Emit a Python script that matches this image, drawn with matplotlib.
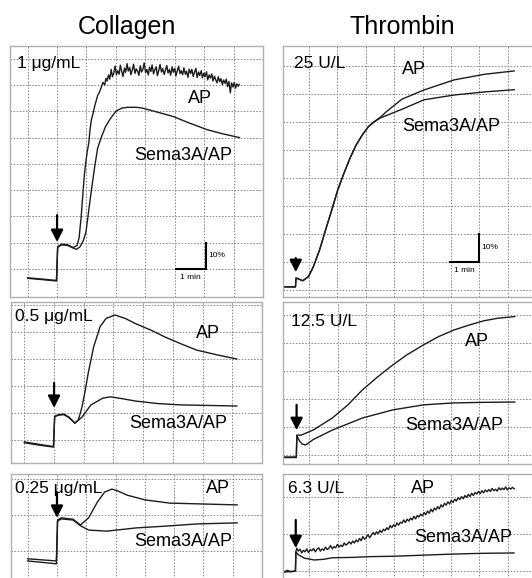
import numpy as np
import matplotlib
matplotlib.use("Agg")
import matplotlib.pyplot as plt

plt.rcParams['font.family'] = ['Liberation Sans', 'DejaVu Sans']

FIG_W, FIG_H = 532, 578
TRACE_COLOR = '#1c1c1c'

# traces: (min from agonist addition, % aggregation)
collagen_1_ap = [(-1.0, -3.5), (-0.5, -4.0), (-0.02, -4.5), (0.02, 8.5), (0.15, 9.5), (0.35, 9.3),
                 (0.55, 8.2), (0.68, 9.0), (0.75, 12), (0.82, 20), (0.88, 29), (0.93, 36), (0.98, 41),
                 (1.03, 45), (1.08, 48), (1.12, 53), (1.17, 57), (1.22, 59), (1.28, 62), (1.33, 64),
                 (1.38, 66), (1.43, 67), (1.5, 69), (1.56, 71), (1.62, 70), (1.66, 72.5),
                 (1.70, 71.5), (1.75, 73.8), (1.79, 72.2), (1.84, 75.9), (1.88, 73.1), (1.93, 74.6),
                 (1.97, 77.2), (2.02, 73.9), (2.06, 75.4), (2.11, 74.1), (2.15, 77.5), (2.20, 75.0),
                 (2.24, 73.2), (2.29, 76.4), (2.33, 74.8), (2.38, 78.1), (2.42, 75.3), (2.47, 76.6),
                 (2.51, 73.9), (2.56, 75.8), (2.60, 77.9), (2.65, 74.4), (2.69, 76.1), (2.74, 75.2),
                 (2.78, 73.6), (2.83, 77.3), (2.87, 74.9), (2.92, 76.0), (2.96, 78.4), (3.01, 74.7),
                 (3.05, 75.9), (3.10, 73.8), (3.14, 76.8), (3.19, 75.1), (3.23, 77.6), (3.28, 74.2),
                 (3.32, 75.7), (3.37, 76.9), (3.41, 73.5), (3.46, 75.6), (3.50, 77.8), (3.55, 74.9),
                 (3.59, 76.2), (3.64, 74.0), (3.68, 75.5), (3.73, 77.4), (3.77, 74.6), (3.82, 75.8),
                 (3.86, 73.7), (3.91, 76.9), (3.95, 74.8), (4.00, 76.3), (4.04, 73.4), (4.09, 75.6),
                 (4.13, 77.1), (4.18, 74.3), (4.22, 75.4), (4.27, 73.9), (4.31, 76.5), (4.36, 74.1),
                 (4.40, 75.2), (4.45, 72.9), (4.49, 76.0), (4.54, 74.4), (4.58, 75.9), (4.63, 73.2),
                 (4.67, 74.8), (4.72, 76.3), (4.76, 72.8), (4.81, 74.9), (4.85, 73.6), (4.90, 75.4),
                 (4.94, 72.7), (4.99, 74.5), (5.03, 73.1), (5.08, 75.0), (5.12, 71.9), (5.17, 73.8),
                 (5.21, 72.6), (5.26, 74.2), (5.30, 71.5), (5.35, 73.3), (5.39, 72.0), (5.44, 70.8),
                 (5.48, 73.1), (5.53, 71.2), (5.57, 72.4), (5.62, 70.1), (5.66, 71.9), (5.71, 70.6),
                 (5.75, 72.2), (5.80, 69.4), (5.84, 71.3), (5.89, 67.0), (5.93, 70.8), (5.98, 69.2),
                 (6.02, 70.9), (6.07, 68.8), (6.11, 70.4), (6.16, 69.5), (6.19, 70.2)]
collagen_1_sema = [(-1.0, -3.3), (-0.5, -3.8), (-0.02, -4.3), (0.02, 8.3), (0.15, 9.2), (0.35, 9.0),
                   (0.55, 8.0), (0.66, 7.5), (0.78, 8.5), (0.9, 11), (0.98, 14), (1.05, 20), (1.12, 26),
                   (1.18, 31), (1.28, 39), (1.38, 46), (1.5, 50), (1.64, 54), (1.8, 57), (2.0, 60),
                   (2.2, 61.2), (2.4, 61.5), (2.7, 61.5), (2.9, 61.2), (3.3, 60), (3.95, 58),
                   (4.5, 55.5), (5.1, 53), (5.6, 51.5), (6.2, 50)]

collagen_05_ap = [(-1.0, -0.7), (-0.5, -1.6), (-0.02, -2.4), (0.02, 8.8), (0.15, 9.4), (0.33, 9.6),
                  (0.5, 8.5), (0.7, 6.3), (0.82, 7.5), (0.94, 12.2), (1.05, 18.5), (1.15, 24.8),
                  (1.33, 34.4), (1.55, 42), (1.75, 45), (2.05, 46.3), (2.4, 45), (2.76, 43),
                  (3.3, 40.5), (3.76, 38), (4.3, 35.5), (4.8, 33.3), (5.5, 31.5), (6.15, 30)]
collagen_05_sema = [(-1.0, -1.0), (-0.5, -1.9), (-0.02, -2.6), (0.02, 8.6), (0.15, 9.2), (0.33, 9.4),
                    (0.5, 8.3), (0.7, 6.2), (0.94, 8.5), (1.24, 13), (1.64, 15.5), (1.9, 16),
                    (2.3, 15.3), (2.76, 14.4), (3.5, 13.5), (4.27, 13), (5.2, 12.8), (6.15, 12.6)]

collagen_025_ap = [(-1.0, -2.2), (-0.5, -2.5), (-0.02, -2.8), (0.02, 8.6), (0.15, 9.2), (0.55, 8.8),
                   (0.8, 7.2), (1.08, 9.2), (1.38, 13.6), (1.63, 16.4), (1.88, 17.2), (2.1, 16.6),
                   (2.4, 15.5), (3.0, 14.2), (3.85, 13.3), (4.77, 13.1), (6.15, 12.8)]
collagen_025_sema = [(-1.0, -2.8), (-0.5, -3.2), (-0.02, -3.6), (0.02, 8.3), (0.15, 8.9), (0.55, 8.6),
                     (0.8, 7.0), (1.08, 5.8), (1.7, 5.5), (2.71, 6.4), (3.72, 6.9), (4.77, 7.5),
                     (6.15, 7.8)]

thrombin_25_ap = [(-0.45, 1.1), (-0.01, 1.1), (0.01, 4.3), (0.25, 3.3), (0.45, 4.8), (0.62, 8.3),
                  (0.84, 14.3), (1.05, 21.4), (1.27, 28.6), (1.48, 35.7), (1.7, 41.7), (1.91, 47.0),
                  (2.13, 51.8), (2.35, 55.4), (2.56, 58.3), (2.77, 60.1), (3.0, 61.8), (3.2, 63.7),
                  (3.74, 68.1), (4.52, 71.4), (5.58, 75.0), (6.65, 77.0), (7.7, 78.2)]
thrombin_25_sema = [(-0.45, 1.1), (-0.01, 1.1), (0.01, 4.3), (0.25, 3.3), (0.45, 4.8), (0.62, 8.3),
                    (0.84, 14.3), (1.05, 21.4), (1.27, 28.6), (1.48, 35.7), (1.7, 41.7), (1.91, 47.0),
                    (2.13, 51.8), (2.35, 55.4), (2.56, 58.3), (2.77, 60.1), (3.0, 61.5), (3.2, 62.3),
                    (3.74, 64.5), (4.52, 67.9), (5.58, 69.6), (6.65, 70.7), (7.7, 71.5)]

thrombin_125_ap = [(-0.45, -0.7), (-0.01, -0.7), (0.01, 7.1), (0.16, 7.1), (0.6, 9.0), (1.26, 13.2),
                   (1.8, 17.8), (2.32, 23.2), (2.85, 27.8), (3.39, 32.1), (3.9, 35.8), (4.48, 39.3),
                   (5.0, 42.2), (5.55, 44.6), (6.1, 46.4), (6.61, 47.9), (7.1, 48.8), (7.7, 49.4)]
thrombin_125_sema = [(-0.45, -0.9), (-0.01, -0.9), (0.01, 7.0), (0.1, 5.0), (0.2, 3.9), (0.32, 3.6),
                     (0.6, 5.6), (1.26, 8.9), (2.32, 13.2), (3.39, 16.1), (4.48, 17.9), (5.55, 18.6),
                     (6.6, 18.8), (7.7, 18.9)]

thrombin_63_ap = [(-0.45, -0.3), (-0.3, 0.2), (-0.15, -0.2), (-0.01, 0.1), (0.0, 5.1), (0.04, 6.2),
                  (0.09, 5.4), (0.15, 5.9), (0.21, 4.9), (0.27, 5.6), (0.33, 5.2), (0.39, 6.0),
                  (0.45, 5.0), (0.51, 5.8), (0.57, 5.5), (0.63, 6.1), (0.69, 5.2), (0.75, 5.9),
                  (0.81, 6.3), (0.87, 5.4), (0.93, 6.0), (0.99, 5.6), (1.05, 6.5), (1.11, 5.8),
                  (1.17, 6.2), (1.23, 6.9), (1.29, 6.0), (1.35, 6.6), (1.41, 6.3), (1.47, 7.2),
                  (1.53, 6.5), (1.59, 7.0), (1.65, 6.6), (1.71, 7.6), (1.77, 7.0), (1.83, 7.4),
                  (1.89, 7.9), (1.95, 7.3), (2.01, 8.1), (2.07, 7.6), (2.13, 8.4), (2.19, 7.9),
                  (2.25, 8.8), (2.31, 8.2), (2.37, 9.3), (2.43, 8.6), (2.49, 9.1), (2.55, 9.8),
                  (2.61, 9.0), (2.67, 9.7), (2.73, 10.4), (2.79, 9.8), (2.85, 10.6), (2.91, 10.1),
                  (2.97, 11.0), (3.03, 10.4), (3.09, 11.3), (3.15, 10.9), (3.21, 11.7), (3.27, 11.2),
                  (3.33, 12.3), (3.39, 11.7), (3.45, 12.5), (3.51, 12.0), (3.57, 13.0), (3.63, 12.4),
                  (3.69, 13.2), (3.75, 12.9), (3.81, 13.8), (3.87, 13.1), (3.93, 14.0), (3.99, 13.5),
                  (4.05, 14.3), (4.11, 13.8), (4.17, 14.8), (4.23, 14.1), (4.29, 15.0), (4.35, 14.6),
                  (4.41, 15.4), (4.47, 14.9), (4.53, 15.8), (4.59, 15.2), (4.65, 16.2), (4.71, 15.6),
                  (4.77, 16.7), (4.83, 16.0), (4.89, 17.0), (4.95, 16.5), (5.01, 17.4), (5.07, 16.8),
                  (5.13, 17.9), (5.19, 17.3), (5.25, 18.3), (5.31, 17.8), (5.37, 18.7), (5.43, 18.1),
                  (5.49, 19.1), (5.55, 18.5), (5.61, 19.4), (5.67, 18.9), (5.73, 19.8), (5.79, 19.3),
                  (5.85, 20.1), (5.91, 19.5), (5.97, 20.4), (6.03, 19.9), (6.09, 20.7), (6.15, 20.1),
                  (6.21, 21.0), (6.27, 20.4), (6.33, 21.2), (6.39, 20.8), (6.45, 21.5), (6.51, 20.9),
                  (6.57, 21.7), (6.63, 21.1), (6.69, 21.9), (6.75, 21.4), (6.81, 22.0), (6.87, 21.5),
                  (6.93, 22.3), (6.99, 21.7), (7.05, 22.1), (7.11, 21.6), (7.17, 22.5), (7.23, 21.9),
                  (7.29, 22.4), (7.35, 22.0), (7.41, 22.7), (7.47, 21.9), (7.53, 22.5), (7.59, 22.1),
                  (7.65, 22.6), (7.71, 22.2)]
thrombin_63_sema = [(-0.45, -0.3), (-0.01, 0.0), (0.01, 5.1), (0.1, 4.4), (0.3, 3.5), (0.65, 3.0),
                    (1.0, 3.2), (1.29, 3.6), (2.0, 3.7), (2.6, 3.9), (3.42, 4.0), (4.5, 4.3),
                    (5.58, 4.6), (6.6, 4.8), (7.7, 4.9)]

column_titles = ['Collagen', 'Thrombin']
dose_labels = ['1 \u03bcg/mL', '0.5 \u03bcg/mL', '0.25 \u03bcg/mL', '25 U/L', '12.5 U/L', '6.3 U/L']
series_labels = ['AP', 'Sema3A/AP']

# panel layout in pixels: box (left, top, right, bottom), axis limits, grid positions
panels = [
    dict(box=(10, 46, 263, 297), xlim=(-1.6, 6.18), ylim=(-10.6, 84.8), xg=-1.0, ny=9,
         traces=(collagen_1_ap, collagen_1_sema), label=0, arrow=(20.5, 10.3),
         dose_xy=(-1.35, 78.3), ap_xy=(4.46, 65), sema_xy=(2.62, 43.3), bar=(4.03, 5.05, 0)),
    dict(box=(11, 302, 262, 463), xlim=(-1.45, 6.15), ylim=(-8.5, 51.1), xg=-1.0, ny=6,
         traces=(collagen_05_ap, collagen_05_sema), label=1, arrow=(21.1, 11.9),
         dose_xy=(-1.33, 45.6), ap_xy=(4.79, 39.6), sema_xy=(2.52, 6.3)),
    dict(box=(11, 474, 262, 580), xlim=(-1.57, 6.15), ylim=(-8.1, 21.4), xg=-1.0, ny=3,
         traces=(collagen_025_ap, collagen_025_sema), label=2, arrow=(16.1, 9.2),
         dose_xy=(-1.45, 17.5), ap_xy=(5.08, 17.5), sema_xy=(2.65, 2.5)),
    dict(box=(283, 46, 536, 297), xlim=(-0.45, 7.71), ylim=(-2.5, 87.1), xg=0.47, ny=9,
         traces=(thrombin_25_ap, thrombin_25_sema), label=3, arrow=(11.4, 6.4),
         dose_xy=(-0.06, 81), ap_xy=(3.74, 78.6), sema_xy=(3.74, 58.2), bar=(5.45, 6.45, 10)),
    dict(box=(283, 302, 536, 464), xlim=(-0.48, 7.68), ylim=(-3.2, 54.6), xg=0.45, ny=6,
         traces=(thrombin_125_ap, thrombin_125_sema), label=4, arrow=(17.9, 8.9),
         dose_xy=(-0.19, 47.5), ap_xy=(5.94, 40.4), sema_xy=(3.84, 10.7)),
    dict(box=(283, 474, 536, 580), xlim=(-0.45, 7.71), ylim=(-2.4, 26.2), xg=0.48, ny=3,
         traces=(thrombin_63_ap, thrombin_63_sema), label=5, arrow=(13.8, 6.2),
         dose_xy=(-0.29, 22.4), ap_xy=(4.06, 22.4), sema_xy=(4.19, 9.2)),
]

fig = plt.figure(figsize=(FIG_W / 100, FIG_H / 100), dpi=100)

for p in panels:
    l, t, r, b = p['box']
    ax = fig.add_axes([l / FIG_W, 1 - b / FIG_H, (r - l) / FIG_W, (b - t) / FIG_H])
    ax.set_xlim(*p['xlim'])
    ax.set_ylim(*p['ylim'])
    ax.set_xticks(p['xg'] + np.arange(9))
    ax.set_yticks(np.arange(p['ny']) * 10)
    ax.tick_params(length=0, labelbottom=False, labelleft=False)
    ax.grid(True, color='#8a8a8a', lw=0.7, ls=(0, (1.6, 1.6)))
    ax.set_axisbelow(True)
    for s in ax.spines.values():
        s.set_color('#b0b0b0')
        s.set_linewidth(1.0)

    for tr in p['traces']:
        tr = np.array(tr)
        ax.plot(tr[:, 0], tr[:, 1], color=TRACE_COLOR, lw=1.0)

    # agonist addition
    y0, y1 = p['arrow']
    ax.annotate('', xy=(0, y1), xytext=(0, y0),
                arrowprops=dict(arrowstyle='-|>,head_length=0.55,head_width=0.28',
                                color='black', lw=1.6, mutation_scale=13, shrinkA=0, shrinkB=0))

    ax.text(*p['dose_xy'], dose_labels[p['label']], fontsize=12.5, va='center', ha='left')
    ax.text(*p['ap_xy'], series_labels[0], fontsize=13, va='center', ha='left')
    ax.text(*p['sema_xy'], series_labels[1], fontsize=13, va='center', ha='left')

    # scale bars: 1 min x 10 %
    if 'bar' in p:
        x0, x1, yb = p['bar']
        ax.plot([x0, x1, x1], [yb, yb, yb + 10], color='black', lw=1.5, solid_joinstyle='miter')
        ax.text(x1 + 0.1, yb + 5, '10%', fontsize=6, va='center', ha='left')
        ax.text((x0 + x1) / 2, yb - 3.2, '1 min', fontsize=6, va='center', ha='center')

fig.text(127 / FIG_W, 1 - 27 / FIG_H, column_titles[0], fontsize=18, ha='center', va='center')
fig.text(402 / FIG_W, 1 - 27 / FIG_H, column_titles[1], fontsize=18, ha='center', va='center')

fig.savefig('out.png', dpi=100)
